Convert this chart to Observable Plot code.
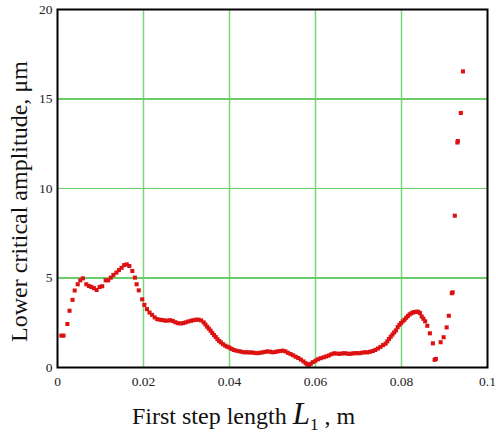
<!DOCTYPE html>
<html><head><meta charset="utf-8">
<script src="https://cdn.jsdelivr.net/npm/d3@7"></script>
<script src="https://cdn.jsdelivr.net/npm/@observablehq/plot@0.6"></script>
<style>
body{margin:0;background:#fff}
#chart svg, #chart svg text, #chart svg tspan { font-family: "Liberation Serif", "DejaVu Serif", serif !important; }
</style>
</head><body><div id="chart"></div>
<script>
// First step length L1, m
const stepLength = [
0.0009,0.0014,0.0023,0.0028,0.0035,0.0040,0.0047,0.0053,0.0059,0.0067,0.0073,0.0079,0.0085,0.0091,0.0098,0.0104,0.0112,0.0118,0.0124,0.0130,0.0137,0.0143,0.0149,0.0155,0.0161,0.0167,0.0174,0.0180,0.0184,0.0189,0.0197,0.0202,0.0208,0.0214,0.0220,0.0226,
0.0232,0.0238,0.0244,0.0250,0.0256,0.0262,0.0268,0.0274,0.0280,0.0286,0.0292,0.0298,0.0304,0.0310,0.0316,0.0322,0.0328,0.0334,0.0340,0.0344,0.0348,0.0352,0.0356,0.0360,0.0364,0.0368,0.0372,0.0376,0.0380,0.0385,0.0390,0.0395,0.0400,0.0405,0.0410,0.0416,0.0422,0.0428,0.0434,0.0440,0.0446,0.0452,0.0458,0.0464,0.0470,0.0476,0.0482,0.0488,
0.0494,0.0500,0.0506,0.0512,0.0518,0.0524,0.0530,0.0536,0.0542,0.0548,0.0554,0.0560,0.0566,0.0572,0.0577,0.0581,0.0585,0.0589,0.0594,0.0600,0.0606,0.0612,0.0619,0.0625,0.0631,0.0637,0.0643,0.0649,0.0655,0.0661,0.0667,0.0673,0.0679,0.0685,0.0691,0.0697,0.0703,0.0709,0.0715,0.0721,0.0727,0.0733,0.0739,0.0745,0.0751,0.0757,0.0763,
0.0767,0.0771,0.0775,0.0779,0.0783,0.0787,0.0791,0.0795,0.0799,0.0803,0.0807,0.0811,0.0815,0.0819,0.0823,0.0827,0.0831,0.0835,0.0839,0.0843,0.0847,0.0851,0.0855,0.0860,0.0866,0.0873,0.0877,0.0880,0.0891,0.0898,0.0905,0.0910,0.0917,0.0919,0.0924,0.0930,0.0931,0.0938,0.0943
];
// Lower critical amplitude, μm
const amplitude = [
1.78,1.78,2.43,3.17,3.78,4.30,4.65,4.87,4.98,4.65,4.55,4.50,4.43,4.33,4.50,4.54,4.87,4.87,5.02,5.17,5.30,5.44,5.57,5.72,5.76,5.67,5.39,5.02,4.65,4.31,3.81,3.50,3.26,3.07,2.94,2.80,
2.70,2.67,2.65,2.62,2.62,2.64,2.60,2.53,2.48,2.46,2.48,2.52,2.57,2.61,2.64,2.67,2.67,2.63,2.52,2.40,2.28,2.17,2.06,1.93,1.81,1.70,1.58,1.48,1.40,1.30,1.22,1.16,1.11,1.04,0.98,0.94,0.91,0.88,0.85,0.85,0.84,0.84,0.82,0.80,0.82,0.84,0.87,0.90,
0.88,0.85,0.87,0.90,0.92,0.94,0.90,0.82,0.75,0.68,0.60,0.53,0.44,0.34,0.24,0.17,0.16,0.21,0.30,0.38,0.46,0.52,0.57,0.62,0.67,0.74,0.79,0.78,0.76,0.78,0.80,0.78,0.76,0.78,0.80,0.80,0.80,0.83,0.85,0.85,0.88,0.92,0.98,1.06,1.15,1.25,1.33,
1.46,1.59,1.72,1.84,1.96,2.07,2.25,2.38,2.48,2.58,2.67,2.78,2.88,2.97,3.03,3.08,3.10,3.12,3.11,3.04,2.85,2.72,2.58,2.33,1.91,1.35,0.43,0.48,1.41,1.69,2.24,2.89,4.15,4.20,8.48,12.57,12.65,14.22,16.54
];
const xTicks = [0, 0.02, 0.04, 0.06, 0.08, 0.1];
const xTickLabels = ["0", "0.02", "0.04", "0.06", "0.08", "0.1"];
const yTicks = [0, 5, 10, 15, 20];
const xGrid = [0.02, 0.04, 0.06, 0.08];
const yGrid = [5, 10, 15];
const yLabel = "Lower critical amplitude, μm";

const data = stepLength.map((x, i) => ({x, y: amplitude[i]}));
const xLabelMap = new Map(xTicks.map((t, i) => [t, xTickLabels[i]]));

const chart = Plot.plot({
  width: 496, height: 434,
  marginLeft: 57, marginRight: 9, marginTop: 9, marginBottom: 67,
  style: {fontSize: "13.5px", background: "white", color: "#222"},
  x: {domain: [0, 0.1]},
  y: {domain: [0, 20]},
  marks: [
    Plot.ruleX(xGrid, {stroke: "#7ad67a", strokeWidth: 1.5}),
    Plot.ruleY(yGrid, {stroke: "#6ccc6c", strokeWidth: 1.2, shapeRendering: "crispEdges"}),
    Plot.axisX(xTicks, {tickSize: 0, tickPadding: 9, tickFormat: d => xLabelMap.get(d), label: null}),
    Plot.axisY(yTicks, {tickSize: 0, tickPadding: 5, label: null}),
    Plot.dot(data, {x: "x", y: "y", symbol: "square", r: 2.3, fill: "#dd1111", stroke: "none"}),
    Plot.frame({stroke: "#000", strokeWidth: 2}),
    Plot.text([yLabel], {frameAnchor: "left", dx: -38, dy: 13, rotate: -90, fontSize: 24, fill: "#111", textAnchor: "middle", lineAnchor: "middle"})
  ]
});

const svg = d3.select(chart);
const t = svg.append("text")
  .attr("x", 132).attr("y", 424)
  .attr("text-anchor", "start")
  .attr("font-size", 24).attr("fill", "#111");
t.append("tspan").text("First step length ");
t.append("tspan").attr("font-style", "italic").attr("font-size", 31).text("L");
t.append("tspan").attr("font-size", 17).attr("dy", 6).text("1");
t.append("tspan").attr("dy", -6).text(" , m");

document.getElementById("chart").appendChild(chart);
</script>
</body></html>
